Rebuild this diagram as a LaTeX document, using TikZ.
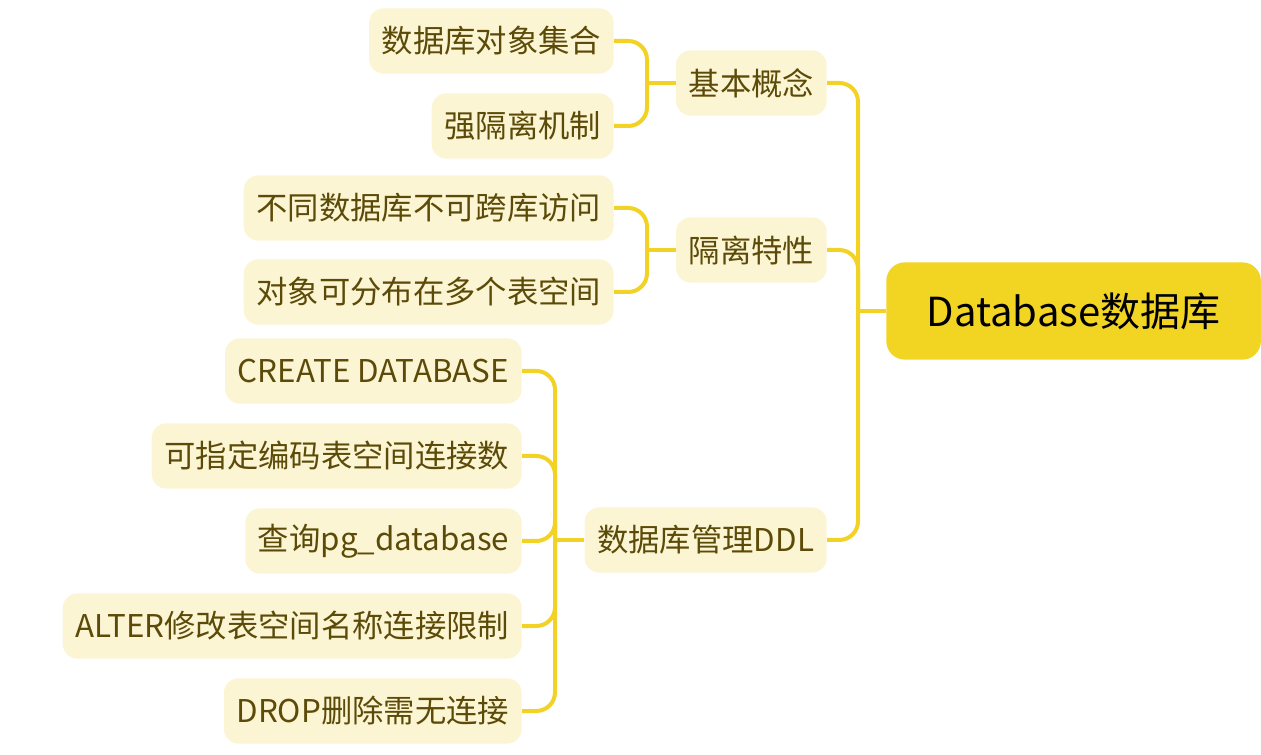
\documentclass[tikz,border=0pt]{standalone}
\usepackage{fontspec}
\setmainfont{Noto Sans CJK SC}
\usepackage{xcolor}
\usetikzlibrary{positioning,calc}
\definecolor{branchgold}{HTML}{F2D224}
\definecolor{rootgold}{HTML}{F2D422}
\definecolor{leafcream}{HTML}{FCF5D4}
\definecolor{leafink}{HTML}{5C4B08}

\begin{document}
\begin{tikzpicture}[x=0.75pt, y=-0.75pt,
  rootnode/.style={fill=rootgold, rounded corners=14pt, minimum width=281pt, minimum height=73pt, font=\fontsize{30}{36}\selectfont, text=black},
  topic/.style={fill=leafcream, rounded corners=11pt, minimum height=49pt, inner xsep=9.5pt, font=\fontsize{23.5}{28}\selectfont, text=leafink},
  branch/.style={draw=branchgold, line width=3pt, rounded corners=14pt}
]
  \useasboundingbox (0,0) rectangle (1261,755);

  \node[rootnode, anchor=west] (db) at (886,311) {Database数据库};

  \node[topic, anchor=east] (k1) at (827,83) {基本概念};
  \node[topic, anchor=east] (k2) at (827,250) {隔离特性};
  \node[topic, anchor=east] (k3) at (827,540) {数据库管理DDL};

  \node[topic, anchor=east] (g11) at (614,41) {数据库对象集合};
  \node[topic, anchor=east] (g12) at (614,126) {强隔离机制};
  \node[topic, anchor=east] (g21) at (614,208) {不同数据库不可跨库访问};
  \node[topic, anchor=east] (g22) at (614,292) {对象可分布在多个表空间};

  \node[topic, anchor=east] (g31) at (522,371) {CREATE DATABASE};
  \node[topic, anchor=east] (g32) at (522,456) {可指定编码表空间连接数};
  \node[topic, anchor=east] (g33) at (522,541) {查询pg\_database};
  \node[topic, anchor=east] (g34) at (522,626) {ALTER修改表空间名称连接限制};
  \node[topic, anchor=east] (g35) at (522,711) {DROP删除需无连接};

  % junction points of the trunks
  \coordinate (jdb) at (858,311);
  \coordinate (jk1) at (647,83);
  \coordinate (jk2) at (647,250);
  \coordinate (jk3) at (555,540);

  \draw[branch] (db.west) -- (jdb);
  \draw[branch] (jdb) |- (k1.east);
  \draw[branch] (jdb) |- (k2.east);
  \draw[branch] (jdb) |- (k3.east);

  \draw[branch] (k1.west) -- (jk1);
  \draw[branch] (jk1) |- (g11.east);
  \draw[branch] (jk1) |- (g12.east);

  \draw[branch] (k2.west) -- (jk2);
  \draw[branch] (jk2) |- (g21.east);
  \draw[branch] (jk2) |- (g22.east);

  \draw[branch] (k3.west) -- (jk3);
  \draw[branch] (jk3) |- (g31.east);
  \draw[branch] (jk3) |- (g32.east);
  \draw[branch] (jk3) |- (g33.east);
  \draw[branch] (jk3) |- (g34.east);
  \draw[branch] (jk3) |- (g35.east);
\end{tikzpicture}
\end{document}
